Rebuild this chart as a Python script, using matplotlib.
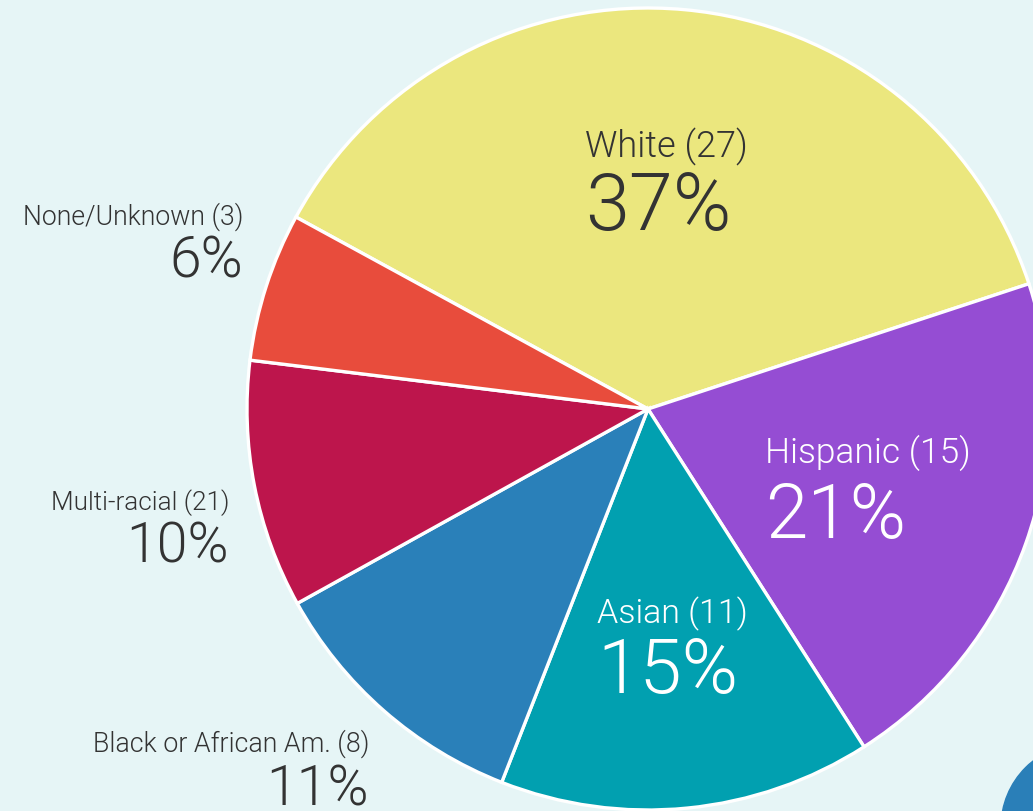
import matplotlib
matplotlib.use("Agg")
import matplotlib.pyplot as plt
from matplotlib.patches import Circle

categories = ["White", "Hispanic", "Asian", "Black or African Am.", "Multi-racial", "None/Unknown"]
counts = [27, 15, 11, 8, 21, 3]
percents = [37, 21, 15, 11, 10, 6]
colors = ["#ebe77e", "#954dd3", "#01a0b0", "#2a80b9", "#bd154c", "#e84c3c"]
text_colors = ["#333333", "#ffffff", "#ffffff", "#333333", "#333333", "#333333"]

W, H = 1033, 812
fig = plt.figure(figsize=(W / 100, H / 100), dpi=100)
bg = "#e6f5f6"
fig.patch.set_facecolor(bg)
ax = fig.add_axes([0, 0, 1, 1])
ax.set_facecolor(bg)

cx, cy, r = 648, H - 410, 401
ax.pie(percents, colors=colors, startangle=151.4, counterclock=False,
       center=(cx, cy), radius=r,
       wedgeprops=dict(edgecolor="white", linewidth=2.4))
ax.add_patch(Circle((1085, H - 828), 84, color="#2a7fb8"))
ax.set_xlim(0, W)
ax.set_ylim(0, H)
ax.set_aspect("equal")
ax.axis("off")

fam = "Roboto"
wt = 300
# (x, label baseline, percent baseline, align, label size, pct size)
layout = [
    (585, 157, 230, "left", 26, 57),
    (765, 463, 538, "left", 25.5, 55),
    (597, 623, 693, "left", 24.5, 55),
    (369, 752, 806, "right", 19.3, 40),
    (229, 510, 563, "right", 18.8, 40),
    (243, 225, 278, "right", 19.2, 41),
]
for i, (x, yl, yp, ha, sl, sp) in enumerate(layout):
    ax.text(x, H - yl, f"{categories[i]} ({counts[i]})", ha=ha, va="baseline",
            fontsize=sl, color=text_colors[i], family=fam, fontweight=wt)
    ax.text(x, H - yp, f"{percents[i]}%", ha=ha, va="baseline",
            fontsize=sp, color=text_colors[i], family=fam, fontweight=wt)

fig.savefig("out.png", dpi=100, facecolor=bg)
